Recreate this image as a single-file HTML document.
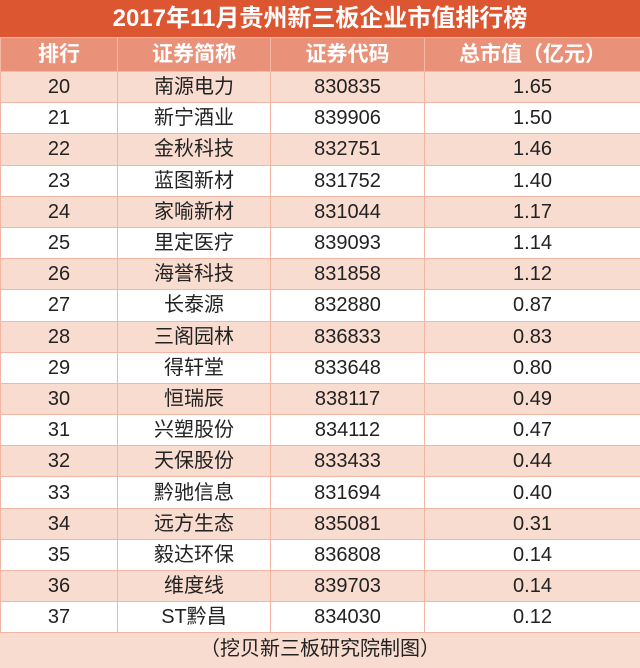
<!DOCTYPE html>
<html><head><meta charset="utf-8"><style>
*{margin:0;padding:0;box-sizing:border-box}
body{width:640px;height:668px;overflow:hidden;background:#fff;font-family:"Liberation Sans","Noto Sans CJK SC",sans-serif}
.title{height:37px;background:#dc5632;color:#fff;font-weight:bold;font-size:24px;text-align:center;line-height:37px}
table{border-collapse:collapse;width:640px;table-layout:fixed}
td{text-align:center;font-size:20px;color:#222;height:31.2px;border:1px solid #f2b6a2;padding:0;line-height:30px}
tr.h td{background:#ea9279;color:#fff;height:34px;font-size:21px;font-weight:bold;border-color:#f3b9a6}
tr.p td{background:#f9dcd0}
.foot{height:35px;background:#f9dcd0;text-align:center;font-size:20px;line-height:33px;color:#222}
</style></head><body>
<div class="title">2017年11月贵州新三板企业市值排行榜</div>
<table>
<colgroup><col style="width:117px"><col style="width:153px"><col style="width:154px"><col style="width:216px"></colgroup>
<tr class="h"><td>排行</td><td>证券简称</td><td>证券代码</td><td>总市值（亿元）</td></tr>
<tr class="p"><td>20</td><td>南源电力</td><td>830835</td><td>1.65</td></tr>
<tr><td>21</td><td>新宁酒业</td><td>839906</td><td>1.50</td></tr>
<tr class="p"><td>22</td><td>金秋科技</td><td>832751</td><td>1.46</td></tr>
<tr><td>23</td><td>蓝图新材</td><td>831752</td><td>1.40</td></tr>
<tr class="p"><td>24</td><td>家喻新材</td><td>831044</td><td>1.17</td></tr>
<tr><td>25</td><td>里定医疗</td><td>839093</td><td>1.14</td></tr>
<tr class="p"><td>26</td><td>海誉科技</td><td>831858</td><td>1.12</td></tr>
<tr><td>27</td><td>长泰源</td><td>832880</td><td>0.87</td></tr>
<tr class="p"><td>28</td><td>三阁园林</td><td>836833</td><td>0.83</td></tr>
<tr><td>29</td><td>得轩堂</td><td>833648</td><td>0.80</td></tr>
<tr class="p"><td>30</td><td>恒瑞辰</td><td>838117</td><td>0.49</td></tr>
<tr><td>31</td><td>兴塑股份</td><td>834112</td><td>0.47</td></tr>
<tr class="p"><td>32</td><td>天保股份</td><td>833433</td><td>0.44</td></tr>
<tr><td>33</td><td>黔驰信息</td><td>831694</td><td>0.40</td></tr>
<tr class="p"><td>34</td><td>远方生态</td><td>835081</td><td>0.31</td></tr>
<tr><td>35</td><td>毅达环保</td><td>836808</td><td>0.14</td></tr>
<tr class="p"><td>36</td><td>维度线</td><td>839703</td><td>0.14</td></tr>
<tr><td>37</td><td>ST黔昌</td><td>834030</td><td>0.12</td></tr>
</table>
<div class="foot">（挖贝新三板研究院制图）</div>
</body></html>
